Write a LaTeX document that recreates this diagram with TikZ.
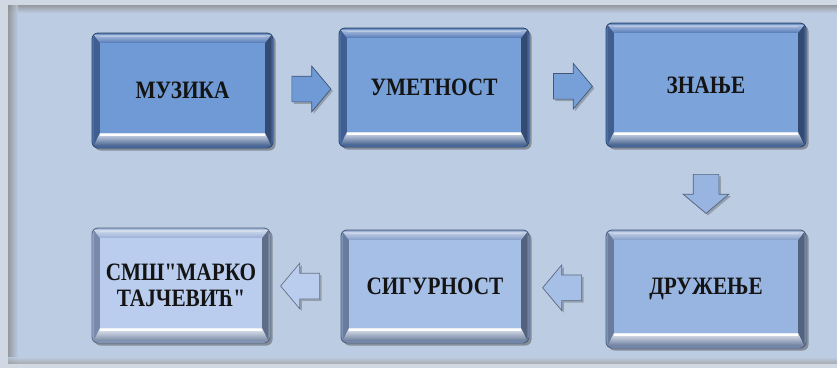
\documentclass[tikz,border=0pt]{standalone}
\usepackage{fontspec}
\newfontfamily\tilefont{Liberation Serif}[FakeStretch=0.85,BoldFont={Liberation Serif Bold}]
\usetikzlibrary{shapes.arrows,shadows,calc}

\definecolor{frame}{HTML}{CFD8E3}
\definecolor{panel}{HTML}{BCCDE3}
\definecolor{faceA}{HTML}{6F9AD6}
\definecolor{faceB}{HTML}{77A0D8}
\definecolor{faceC}{HTML}{7DA4DA}
\definecolor{faceD}{HTML}{98B4E0}
\definecolor{faceE}{HTML}{A6BFE7}
\definecolor{faceF}{HTML}{BACDEF}
\definecolor{rimTop}{HTML}{5279B8}
\definecolor{rimLow}{HTML}{869FCB}
\definecolor{rimEnd}{HTML}{9AB0D8}

\begin{document}
\begin{tikzpicture}[x=1pt,y=1pt,%
    tile/.style 2 args={rounded corners=6pt,draw=#2!55!black,line width=0.8pt,fill=#2,
      drop shadow={shadow xshift=2.5pt,shadow yshift=-2.5pt,opacity=0.45,fill=black!75},
      font={\tilefont\bfseries\fontsize{25}{26}\selectfont},text=black!92,align=center,
      path picture={
        \coordinate (o1) at ([shift={(1.5pt,1.5pt)}]path picture bounding box.south west);
        \coordinate (o2) at ([shift={(-1.5pt,-1.5pt)}]path picture bounding box.north east);
        \coordinate (f1) at ([shift={(8pt,15pt)}]path picture bounding box.south west);
        \coordinate (f2) at ([shift={(-8pt,-10pt)}]path picture bounding box.north east);
        \coordinate (f3) at (f2 |- f1);
        \fill[sharp corners,#2!78!black] (o1) -- (o1 |- o2) -- (f1 |- f2) -- (f1) -- cycle;
        \fill[sharp corners,#2!62!black] (o2 |- o1) -- (o2) -- (f2) -- (f3) -- cycle;
        \shade[sharp corners,top color=#2!45!white,bottom color=#2]
          (o1 |- o2) -- (o2) -- (f2) -- (f1 |- f2) -- cycle;
        \shade[sharp corners,top color=white!80!#2,bottom color=#2!75!black]
          (o1) -- (o2 |- o1) -- (f3) -- (f1) -- cycle;
        \fill[sharp corners,#1] (f1) rectangle (f2);
        \draw[sharp corners,white,line width=1.4pt] ([yshift=-2pt]f1) -- ([yshift=-2pt]f3);
        \draw[sharp corners,white!60!#2,line width=1pt] ([yshift=6.5pt]f1 |- f2) -- ([yshift=6.5pt]f2);
      }},
    blockarrow/.style 2 args={single arrow,single arrow head extend=10pt,single arrow tip angle=100,
      minimum width=45pt,minimum height=39pt,inner xsep=0pt,inner ysep=12.5pt,rotate=#1,
      draw=#2!55!black,line width=0.7pt,fill=#2,
      drop shadow={shadow xshift=2pt,shadow yshift=-2pt,opacity=0.35,fill=black!70}}
  ]
  % background
  \fill[frame] (0,0) rectangle (837,368);
  \fill[panel] (8,5) rectangle (837,363);
  \shade[top color=black!45,bottom color=panel,opacity=0.8] (8,355) rectangle (837,363);
  \shade[left color=black!45,right color=panel,opacity=0.8] (8,5) rectangle (18,363);
  \shade[top color=panel,bottom color=black!35,opacity=0.8] (8,5) rectangle (837,11);

  % tiles, top row
  \node at (182.5,277.5) [tile={faceA}{rimTop},minimum width=181pt,minimum height=115pt] (muzika) {МУЗИКА};
  \node at (434,280.5) [tile={faceB}{rimTop},minimum width=190pt,minimum height=119pt] (umetnost) {УМЕТНОСТ};
  \node at (706,283) [tile={faceC}{rimTop},minimum width=200pt,minimum height=124pt] (znanje) {ЗНАЊЕ};

  % tiles, bottom row
  \node at (706,79) [tile={faceD}{rimLow},minimum width=200pt,minimum height=118pt] (druzenje) {ДРУЖЕЊЕ};
  \node at (435,81.5) [tile={faceE}{rimLow},minimum width=188pt,minimum height=113pt] (sigurnost) {СИГУРНОСТ};
  \node at (181,82.5) [tile={faceF}{rimEnd},minimum width=178pt,minimum height=115pt] (smsh) {СМШ"МАРКО\\ТАЈЧЕВИЋ"};

  % arrows
  \node at ($(muzika.east)!0.5!(umetnost.west)$) [blockarrow={0}{faceA}] (a1) {};
  \node at ($(umetnost.east)!0.5!(znanje.west)$) [blockarrow={0}{faceB}] (a2) {};
  \node at ($(znanje.south)!0.5!(druzenje.north)$) [blockarrow={-90}{faceD}] (a3) {};
  \node at ($(druzenje.west)!0.5!(sigurnost.east)$) [blockarrow={180}{faceE}] (a4) {};
  \node at ($(sigurnost.west)!0.5!(smsh.east)$) [blockarrow={180}{faceF}] (a5) {};
\end{tikzpicture}
\end{document}
